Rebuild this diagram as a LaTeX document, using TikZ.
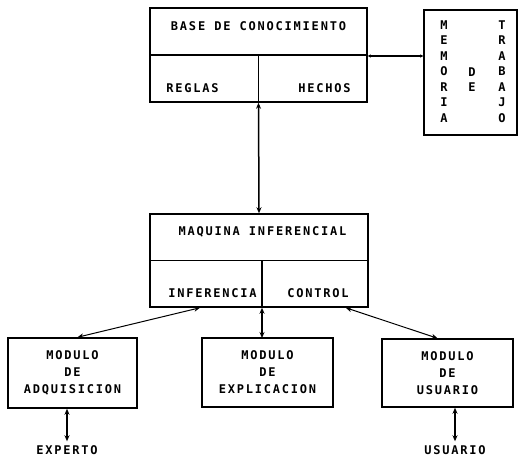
\documentclass[tikz,border=0pt]{standalone}
\usepackage{fontspec}
\setmonofont[LetterSpace=15]{DejaVu Sans Mono}
\usetikzlibrary{arrows.meta}
\tikzset{
  box/.style={draw, line width=1.5pt, rectangle, inner sep=0pt},
  lbl/.style={font=\fontsize{12}{17}\selectfont\ttfamily\bfseries, inner sep=0pt, align=center},
  vlbl/.style={font=\fontsize{12}{15.5}\selectfont\ttfamily\bfseries, inner sep=0pt, align=center},
  conn/.style={line width=1.5pt, {Stealth[length=6pt,width=5pt]}-{Stealth[length=6pt,width=5pt]}},
  thin conn/.style={line width=1pt, {Stealth[length=6pt,width=5pt]}-{Stealth[length=6pt,width=5pt]}}
}
\begin{document}
\begin{tikzpicture}[x=1pt,y=-1pt]
\useasboundingbox (0,0) rectangle (518,457);
% knowledge base
\node[box, minimum width=217pt, minimum height=94pt] (kb) at (258.5,55) {};
\draw[line width=1.5pt] (kb.west) -- (kb.east);
\draw[line width=1.5pt] (kb.center) -- (kb.south);
\node[lbl] (kbt) at (258.5,26) {BASE DE CONOCIMIENTO};
\node[lbl] (reg) at (192.5,88) {REGLAS};
\node[lbl] (hec) at (324.5,88) {HECHOS};
% working memory
\node[box, minimum width=93pt, minimum height=125pt] (wm) at (470.5,72.5) {};
\node[vlbl] (wm1) at (444,71.5) {M\\E\\M\\O\\R\\I\\A};
\node[vlbl] (wm2) at (472,79.5) {D\\E};
\node[vlbl] (wm3) at (502,71.5) {T\\R\\A\\B\\A\\J\\O};
\draw[line width=1.2pt, {Stealth[length=3pt,width=3pt]}-{Stealth[length=3pt,width=3pt]}] (kb.east |- 0,56) -- (wm.west |- 0,56);
% inference engine
\node[box, minimum width=218pt, minimum height=93pt] (mi) at (259,260.5) {};
\draw[line width=1.5pt] (mi.west) -- (mi.east);
\coordinate (mid) at (262,260.5);
\draw[line width=1.5pt] (mid) -- (mid |- mi.south);
\node[lbl] (mit) at (262.5,232) {MAQUINA INFERENCIAL};
\node[lbl] (inf) at (212.5,293) {INFERENCIA};
\node[lbl] (con) at (318,293) {CONTROL};
\draw[conn] (kb.south) -- (mi.north);
% modules
\node[box, minimum width=129pt, minimum height=70pt] (la) at (72.5,373) {};
\node[lbl] (lat) at (la.center) {MODULO\\DE\\ADQUISICION};
\node[box, minimum width=131pt, minimum height=69pt] (me) at (267.5,372.5) {};
\node[lbl] (met) at (me.center) {MODULO\\DE\\EXPLICACION};
\node[box, minimum width=131pt, minimum height=68pt] (mu) at (447.5,373) {};
\node[lbl] (mut) at (mu.center) {MODULO\\DE\\USUARIO};
\coordinate (la1) at ([xshift=5pt]la.north);
\coordinate (mi1) at ([xshift=-59pt]mi.south);
\draw[thin conn] (la1) -- (mi1);
\coordinate (me1) at (262,338);
\draw[conn] (me1 |- mi.south) -- (me1);
\coordinate (mu1) at ([xshift=-10pt]mu.north);
\coordinate (mi2) at ([xshift=-23pt]mi.south east);
\draw[thin conn] (mi2) -- (mu1);
% external
\node[lbl] (exp) at (67,450) {EXPERTO};
\node[lbl] (usu) at (455,450) {USUARIO};
\draw[conn] (exp.north |- la.south) -- ([yshift=4pt]exp.north);
\draw[conn] (usu.north |- mu.south) -- ([yshift=4pt]usu.north);
\end{tikzpicture}
\end{document}
